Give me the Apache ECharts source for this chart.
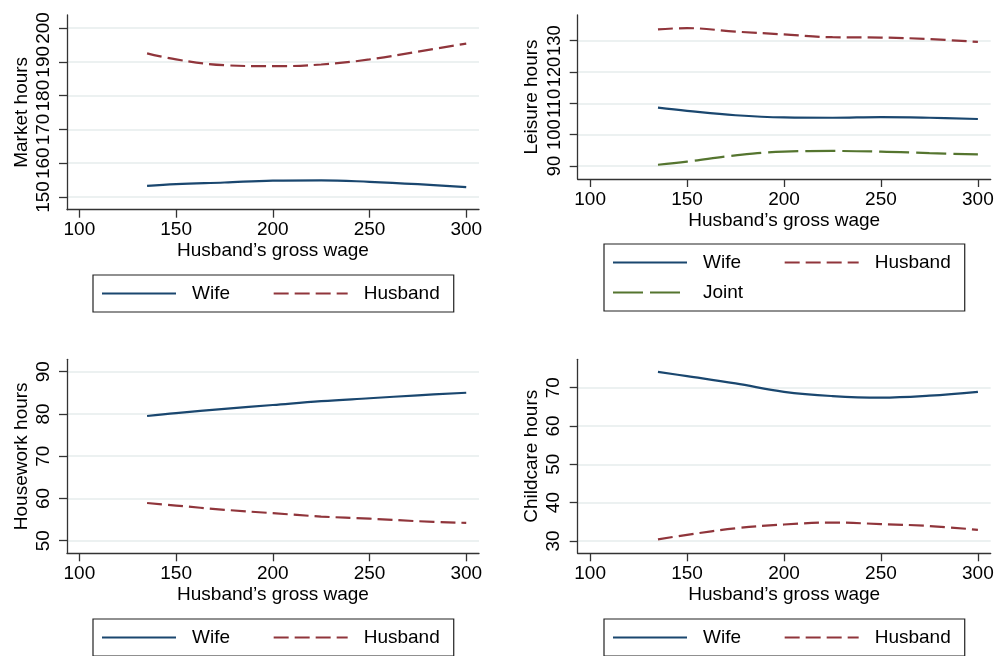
<!DOCTYPE html>
<html>
<head>
<meta charset="utf-8">
<script src="https://cdn.jsdelivr.net/npm/echarts@6/dist/echarts.min.js"></script>
<style>html,body{margin:0;padding:0;background:#fff}#c{width:1000px;height:656px}</style>
</head>
<body>
<div id="c"></div>
<script>
// ---- data ----
var wage = [135, 150, 175, 200, 225, 250, 275, 300];
var xTicks = [100, 150, 200, 250, 300];

var marketWife    = [153.3, 153.8, 154.3, 154.85, 154.95, 154.5, 153.8, 152.9];
var marketHusband = [192.5, 190.7, 189.0, 188.7, 189.2, 190.7, 193.0, 195.4];
var marketTicks   = [150, 160, 170, 180, 190, 200];

var leisureWife    = [108.6, 107.6, 106.2, 105.5, 105.4, 105.6, 105.4, 105.0];
var leisureHusband = [133.6, 134.0, 132.9, 132.0, 131.1, 131.0, 130.5, 129.6];
var leisureJoint   = [90.4, 91.4, 93.4, 94.6, 94.8, 94.6, 94.1, 93.7];
var leisureTicks   = [90, 100, 110, 120, 130];

var houseWife    = [79.5, 80.2, 81.2, 82.1, 83.0, 83.7, 84.4, 85.0];
var houseHusband = [58.9, 58.3, 57.3, 56.5, 55.7, 55.2, 54.6, 54.2];
var houseTicks   = [50, 60, 70, 80, 90];

var careWife    = [74.1, 73.0, 71.1, 68.9, 67.8, 67.4, 67.9, 68.9];
var careHusband = [30.4, 31.6, 33.3, 34.3, 34.8, 34.4, 33.9, 32.9];
var careTicks   = [30, 40, 50, 60, 70];

// ---- styling ----
var FONT = '"Liberation Sans", Arial, sans-serif';
var FS = 19;
var NAVY = '#1a476f', MAROON = '#90353b', GREEN = '#55752f';
var AXC = '#333333';
var GRIDC = '#e6eded';

function pairs(ys) { return wage.map(function (x, i) { return [x, ys[i]]; }); }

var grids = [
  {left: 67,    top: 15,    width: 412, height: 194.7},
  {left: 577.7, top: 15,    width: 413, height: 164},
  {left: 67,    top: 359.3, width: 412, height: 194},
  {left: 577.7, top: 359.3, width: 413, height: 194}
];
var yRanges = [[146.25, 203.85], [85.85, 138.19], [47.0, 92.92], [26.78, 77.39]];
var yTickSets = [marketTicks, leisureTicks, houseTicks, careTicks];
var yNames = ['Market hours', 'Leisure hours', 'Housework hours', 'Childcare hours'];
var yLabelSize = [19, 18.4, 19, 19];

var xAxes = grids.map(function (g, i) {
  return {
    type: 'value', gridIndex: i, min: 93.6, max: 306.6,
    name: 'Husband\u2019s gross wage', nameLocation: 'middle', nameGap: 32,
    nameTextStyle: {fontFamily: FONT, fontSize: FS, color: '#000', verticalAlign: 'top'},
    axisLine: {show: true, onZero: false, lineStyle: {color: AXC, width: 1.3}},
    axisTick: {show: true, length: 8, customValues: xTicks, lineStyle: {color: AXC, width: 1.3}},
    axisLabel: {customValues: xTicks, showMinLabel: true, showMaxLabel: true,
      fontFamily: FONT, fontSize: FS, color: '#000', margin: 11},
    splitLine: {show: false}
  };
});

var yAxes = grids.map(function (g, i) {
  return {
    type: 'value', gridIndex: i, min: yRanges[i][0], max: yRanges[i][1],
    name: yNames[i], nameLocation: 'middle', nameGap: 36, nameRotate: 90,
    nameTextStyle: {fontFamily: FONT, fontSize: FS, color: '#000'},
    axisLine: {show: true, onZero: false, lineStyle: {color: AXC, width: 1.3}},
    axisTick: {show: true, length: 8, customValues: yTickSets[i], lineStyle: {color: AXC, width: 1.3}},
    axisLabel: {customValues: yTickSets[i], showMinLabel: true, showMaxLabel: true, hideOverlap: false,
      rotate: 90, fontFamily: FONT, fontSize: yLabelSize[i], color: '#000', margin: 14},
    splitLine: {show: true, lineStyle: {color: GRIDC, width: 1.5}}
  };
});

function ser(name, idx, ys, color, dash) {
  return {
    name: name, type: 'line', xAxisIndex: idx, yAxisIndex: idx,
    data: pairs(ys), smooth: 0.4, symbol: 'none', showSymbol: false,
    lineStyle: {color: color, width: 2.2, type: dash || 'solid'},
    itemStyle: {color: color}, z: 3
  };
}
var DASH_H = [15, 6], DASH_J = [30, 7];

var series = [
  ser('Wife', 0, marketWife, NAVY), ser('Husband', 0, marketHusband, MAROON, DASH_H),
  ser('Wife', 1, leisureWife, NAVY), ser('Husband', 1, leisureHusband, MAROON, DASH_H),
  ser('Joint', 1, leisureJoint, GREEN, DASH_J),
  ser('Wife', 2, houseWife, NAVY), ser('Husband', 2, houseHusband, MAROON, DASH_H),
  ser('Wife', 3, careWife, NAVY), ser('Husband', 3, careHusband, MAROON, DASH_H)
];

var SPACER = '\u00a0\u00a0\u00a0\u00a0\u00a0\u00a0';
function legend(left, top, names) {
  return {
    left: left, top: top, orient: 'horizontal', width: 365,
    padding: [9, 14, 9, 8], itemGap: 11, itemWidth: 74, itemHeight: 14,
    borderColor: '#222', borderWidth: 1.2, backgroundColor: '#fff',
    selectedMode: false,
    itemStyle: {opacity: 0},
    formatter: function (name) { return name === 'Wife' ? name + SPACER : name; },
    textStyle: {fontFamily: FONT, fontSize: FS, color: '#000', padding: [0, 0, 0, 11]},
    data: names
  };
}

var option = {
  animation: false,
  backgroundColor: '#fff',
  grid: grids,
  xAxis: xAxes,
  yAxis: yAxes,
  legend: [
    legend(93, 275, ['Wife', 'Husband']),
    legend(604, 244, ['Wife', 'Husband', 'Joint']),
    legend(93, 619, ['Wife', 'Husband']),
    legend(604, 619, ['Wife', 'Husband'])
  ],
  series: series
};

var chart = echarts.init(document.getElementById('c'), null, {renderer: 'canvas'});
chart.setOption(option);
</script>
</body>
</html>
